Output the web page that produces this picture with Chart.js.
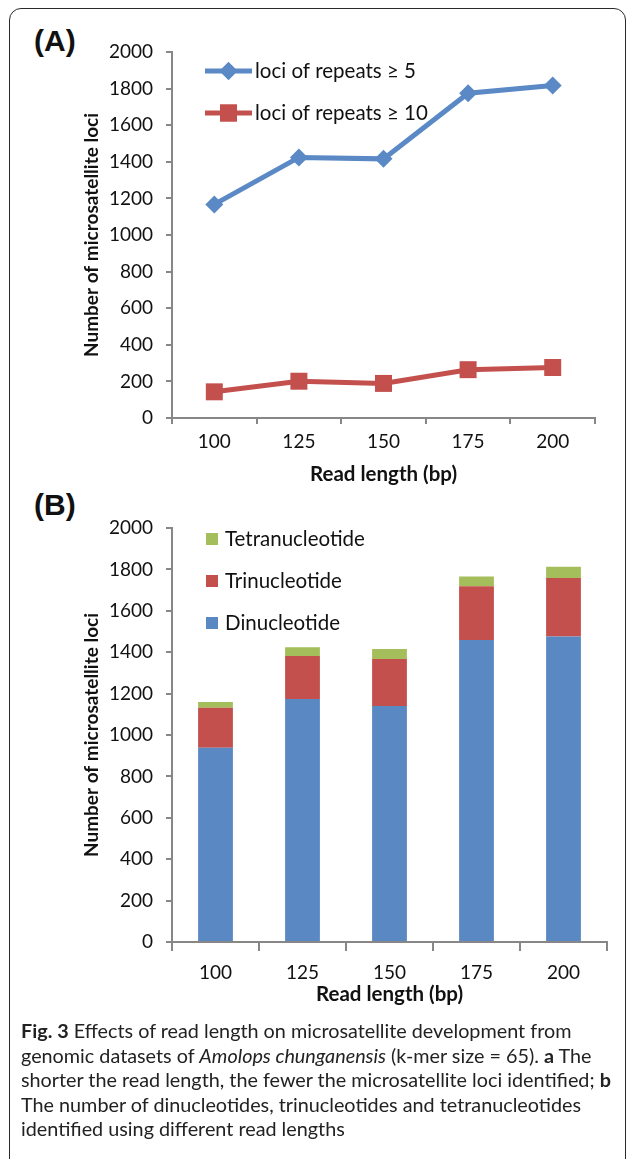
<!DOCTYPE html>
<html lang="en">
<head>
  <meta charset="UTF-8">
  <title>Fig. 3 Read length vs microsatellite loci</title>
  <style>
    body {
      margin: 0;
      width: 627px;
      height: 1159px;
      overflow: hidden;
      background: #fff;
      position: relative;
      font-family: Lato, sans-serif;
    }
    .frame {
      position: absolute;
      left: 9px;
      top: 8px;
      width: 615px;
      height: 1200px;
      border: 1.5px solid #2a2a2a;
      border-radius: 12px;
    }
    .panel-label {
      position: absolute;
      left: 34px;
      font: bold 30px "Liberation Sans", Arial, sans-serif;
      color: #111;
    }
    canvas { position: absolute; left: 0; }
    #chartA { top: 0; }
    #chartB { top: 490px; }
    #caption {
      position: absolute;
      left: 21px;
      top: 1018px;
      font-size: 19.8px;
      line-height: 24.5px;
      color: #222;
      white-space: nowrap;
    }
  </style>
</head>
<body>
  <div class="frame"></div>
  <div class="panel-label" style="top:24px">(A)</div>
  <div class="panel-label" style="top:488px">(B)</div>
  <canvas id="chartA" width="627" height="500"></canvas>
  <canvas id="chartB" width="627" height="520"></canvas>
  <div id="caption"><b>Fig. 3</b> Effects of read length on microsatellite development from<br>genomic datasets of <i>Amolops chunganensis</i> (k-mer size = 65). <b>a</b> The<br>shorter the read length, the fewer the microsatellite loci identified; <b>b</b><br>The number of dinucleotides, trinucleotides and tetranucleotides<br>identified using different read lengths</div>

  <script src="https://cdn.jsdelivr.net/npm/chart.js"></script>
  <script>
    // values
    var readLengths = ['100', '125', '150', '175', '200'];
    var lociRepeats5 = [1167, 1424, 1416, 1775, 1817];
    var lociRepeats10 = [143, 201, 189, 264, 276];
    var dinucleotide = [938, 1174, 1140, 1459, 1476];
    var trinucleotide = [194, 208, 227, 260, 282];
    var tetranucleotide = [27, 42, 49, 47, 55];
    var yMin = 0, yMax = 2000, yStep = 200;

    var axisGray = '#878787';
    var textColor = '#111';
    Chart.defaults.font.family = 'Lato, sans-serif';
    Chart.defaults.color = textColor;
    Chart.defaults.animation = false;

    // legend drawn inside the plot area
    var insideLegend = {
      id: 'insideLegend',
      afterDraw: function (chart, args, opts) {
        var ctx = chart.ctx;
        ctx.save();
        ctx.font = opts.fontSize + 'px Lato, sans-serif';
        ctx.textBaseline = 'middle';
        ctx.fillStyle = textColor;
        opts.order.forEach(function (dsIndex, row) {
          var ds = chart.data.datasets[dsIndex];
          var y = opts.y + row * opts.rowGap;
          if (opts.type === 'line') {
            ctx.strokeStyle = ds.borderColor;
            ctx.lineWidth = ds.borderWidth;
            ctx.beginPath();
            ctx.moveTo(opts.x, y);
            ctx.lineTo(opts.x + opts.lineLen, y);
            ctx.stroke();
            ctx.fillStyle = ds.borderColor;
            Chart.helpers.drawPoint(ctx, {
              pointStyle: ds.pointStyle, radius: ds.pointRadius, borderWidth: 0, rotation: 0
            }, opts.x + opts.lineLen / 2, y);
            ctx.fill();
            ctx.fillStyle = textColor;
            ctx.fillText(ds.label, opts.x + opts.lineLen + 3, y);
          } else {
            ctx.fillStyle = ds.backgroundColor;
            ctx.fillRect(opts.x, y - opts.box / 2, opts.box, opts.box);
            ctx.fillStyle = textColor;
            ctx.fillText(ds.label, opts.x + opts.box + 7, y);
          }
        });
        ctx.restore();
      }
    };

    function yAxis(width) {
      return {
        min: yMin, max: yMax,
        ticks: {
          stepSize: yStep, padding: 13, font: { size: 19 }, color: textColor,
          callback: function (v) { return String(v); }
        },
        grid: { drawOnChartArea: false, tickLength: 6, color: axisGray, lineWidth: 2 },
        border: { color: axisGray, width: 2 },
        title: {
          display: true, text: 'Number of microsatellite loci',
          font: { size: 19, weight: 'bold' }, color: textColor,
          padding: { top: 80, bottom: 0 }
        },
        afterFit: function (s) { s.width = width; }
      };
    }

    function xAxis(height, tickLen, labelPad, titlePad) {
      return {
        offset: true,
        ticks: { padding: labelPad, font: { size: 19 }, color: textColor },
        grid: { offset: true, drawOnChartArea: false, tickLength: tickLen, color: axisGray, lineWidth: 2 },
        border: { color: axisGray, width: 2 },
        title: {
          display: true, text: 'Read length (bp)',
          font: { size: 20.5, weight: 'bold' }, color: textColor,
          padding: { top: 0, bottom: titlePad }
        },
        afterFit: function (s) { s.height = height; }
      };
    }

    new Chart(document.getElementById('chartA'), {
      type: 'line',
      data: {
        labels: readLengths,
        datasets: [
          {
            label: 'loci of repeats \u2265 5', data: lociRepeats5,
            borderColor: '#5A89C6', backgroundColor: '#5A89C6', borderWidth: 5,
            pointStyle: 'rectRot', pointRadius: 9, pointBorderWidth: 0, tension: 0
          },
          {
            label: 'loci of repeats \u2265 10', data: lociRepeats10,
            borderColor: '#C4504D', backgroundColor: '#C4504D', borderWidth: 5,
            pointStyle: 'rect', pointRadius: 12, pointBorderWidth: 0, tension: 0
          }
        ]
      },
      options: {
        responsive: false,
        layout: { padding: { top: 52, right: 32, left: 0, bottom: 0 } },
        plugins: {
          legend: { display: false },
          tooltip: { enabled: false },
          insideLegend: { type: 'line', x: 205, y: 71, rowGap: 42, lineLen: 47, fontSize: 20.5, order: [0, 1] }
        },
        scales: { x: xAxis(82, 6, 6, 13), y: yAxis(172) }
      },
      plugins: [insideLegend]
    });

    new Chart(document.getElementById('chartB'), {
      type: 'bar',
      data: {
        labels: readLengths,
        datasets: [
          { label: 'Dinucleotide', data: dinucleotide, backgroundColor: '#5A88C3' },
          { label: 'Trinucleotide', data: trinucleotide, backgroundColor: '#C3504D' },
          { label: 'Tetranucleotide', data: tetranucleotide, backgroundColor: '#A3BE5A' }
        ]
      },
      options: {
        responsive: false,
        datasets: { bar: { categoryPercentage: 1, barPercentage: 0.4 } },
        layout: { padding: { top: 38, right: 20, left: 0, bottom: 0 } },
        plugins: {
          legend: { display: false },
          tooltip: { enabled: false },
          insideLegend: { type: 'bar', x: 206, y: 49, rowGap: 42, box: 12, fontSize: 20.5, order: [2, 1, 0] }
        },
        scales: {
          x: Object.assign(xAxis(68, 9, 10, 3), { stacked: true }),
          y: Object.assign(yAxis(172), { stacked: true })
        }
      },
      plugins: [insideLegend]
    });
  </script>
</body>
</html>
